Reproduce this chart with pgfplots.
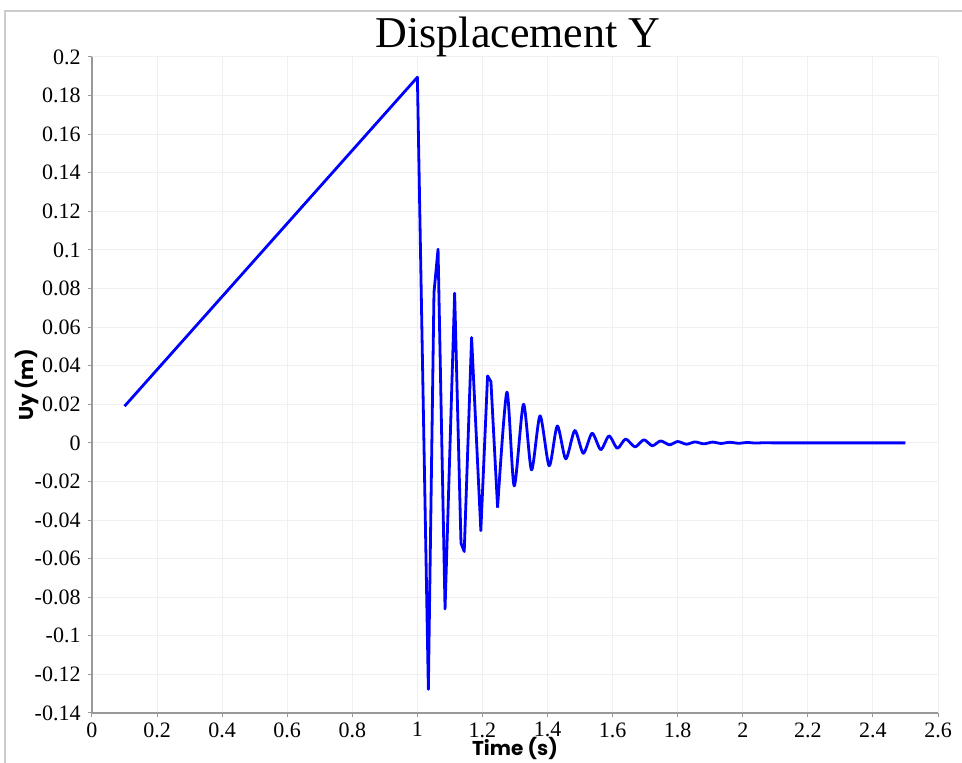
\documentclass[border=0pt]{standalone}
\usepackage{fontspec}
\setmainfont{Liberation Serif}
\newfontfamily\labelfont{Poppins}
\usepackage{pgfplots}
\pgfplotsset{compat=1.18}
\begin{document}
\begin{tikzpicture}
\begin{axis}[
  scale only axis,
  width=423pt, height=328pt,
  xmin=0, xmax=2.6, ymin=-0.14, ymax=0.2,
  axis x line=bottom, axis y line=left,
  axis line style={-, black!40, line width=0.6pt},
  xtick={0,0.2,0.4,0.6,0.8,1,1.2,1.4,1.6,1.8,2,2.2,2.4,2.6},
  ytick={-0.14,-0.12,-0.1,-0.08,-0.06,-0.04,-0.02,0,0.02,0.04,0.06,0.08,0.1,0.12,0.14,0.16,0.18,0.2},
  tick align=outside,
  major tick length=2.2pt,
  tick style={black!40, line width=0.5pt},
  grid=major,
  major grid style={black!6, line width=0.5pt},
  /pgf/number format/assume math mode=true,
  /pgf/number format/fixed,
  /pgf/number format/precision=2,
  tick label style={font=\fontsize{11}{13}\selectfont, black},
  xticklabel style={yshift=1pt},
  xlabel={Time (s)},
  xlabel style={at={(axis description cs:0.5,-0.065)}, anchor=base, font=\labelfont\bfseries\fontsize{10}{12}\selectfont},
  ylabel={Uy (m)},
  ylabel style={at={(axis description cs:-0.0697,0.5)}, anchor=base, font=\labelfont\bfseries\fontsize{10}{12}\selectfont},
]
\addplot[blue, line width=1.4pt, line join=round] coordinates {
(0.1,0.0190) (1.0,0.1895)
(1.0337,-0.1277)
(1.051,0.078)
(1.0635,0.1004)
(1.085,-0.0861)
(1.1145,0.0776)
(1.134,-0.052)
(1.144,-0.0563)
(1.1666,0.0546)
(1.195,-0.0455)
(1.2157,0.0347)
(1.226,0.0318)
(1.2465,-0.0335)
};
\addplot[blue, line width=1.4pt, line join=round, smooth, tension=0.45] coordinates {
(1.2465,-0.0335)
(1.275,0.0263)
(1.2975,-0.0223)
(1.326,0.0200)
(1.3507,-0.0140)
(1.377,0.0140)
(1.405,-0.0119)
(1.430,0.0088)
(1.456,-0.0083)
(1.4837,0.0064)
(1.510,-0.0054)
(1.537,0.0050)
(1.5635,-0.0035)
(1.589,0.0036)
(1.6145,-0.0028)
(1.640,0.0020)
(1.669,-0.0021)
(1.696,0.0016)
(1.722,-0.0015)
(1.7475,0.0010)
(1.775,-0.0010)
(1.80,0.0007)
(1.827,-0.0007)
(1.853,0.0005)
(1.880,-0.0005)
(1.907,0.0004)
(1.933,-0.0003)
(1.960,0.0003)
(1.987,-0.0002)
(2.013,0.0002)
(2.04,-0.0001)
(2.067,0.0001)
(2.1,0)
(2.3,0)
(2.5,0)
};
\end{axis}
\draw[black!20, line width=0.6pt] ([xshift=-43.5pt, yshift=-25pt]current axis.south west) -- ([xshift=-43.5pt, yshift=23pt]current axis.north west) -- ([xshift=12pt,yshift=23pt]current axis.north east);
\node[anchor=base, font=\fontsize{22}{26}\selectfont, inner sep=0pt] at ([xshift=1.5pt, yshift=4.5pt]current axis.north) {Displacement Y};
\pgfresetboundingbox
\path[use as bounding box] ([xshift=-46pt,yshift=-25pt]current axis.south west) rectangle ([xshift=12pt,yshift=28.5pt]current axis.north east);
\end{tikzpicture}
\end{document}
